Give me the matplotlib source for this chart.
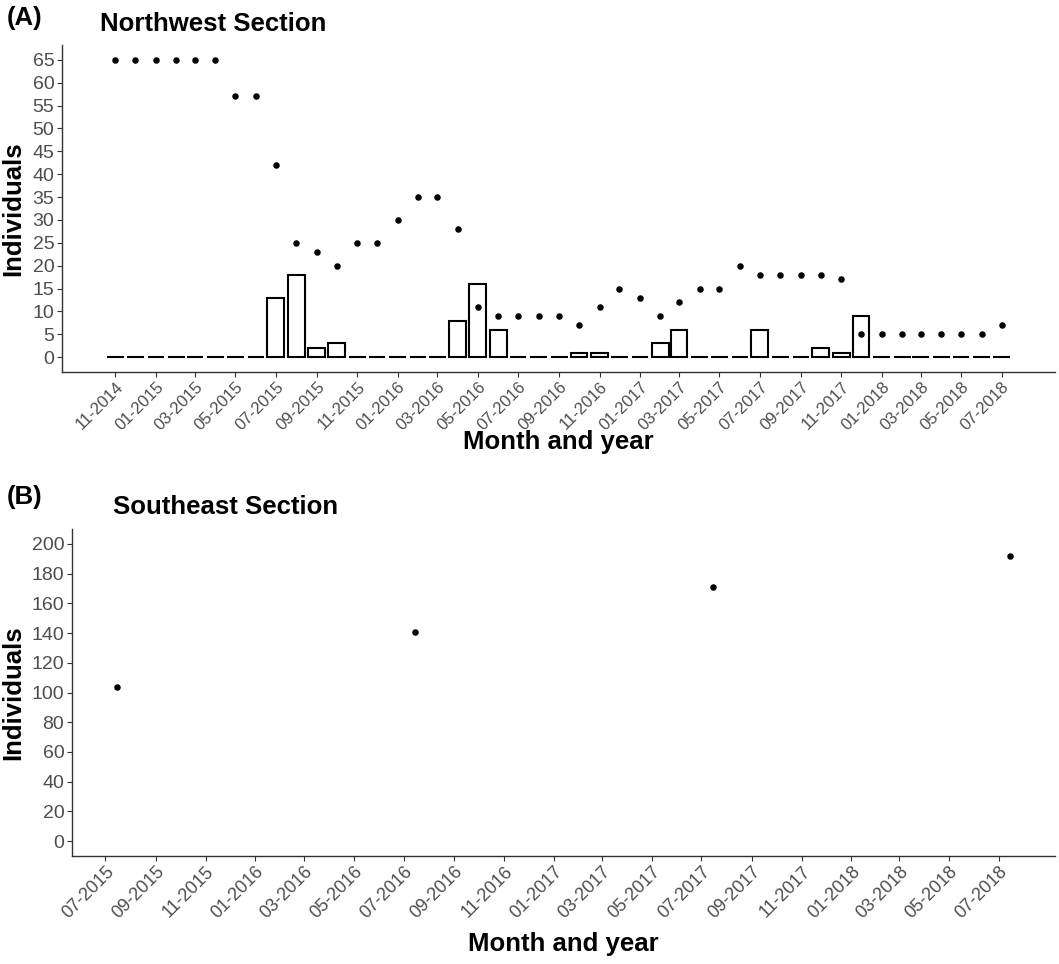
import numpy as np
import pandas as pd
import matplotlib
matplotlib.use("Agg")
import matplotlib.pyplot as plt
import matplotlib.dates as mdates

plt.rcParams['font.family'] = ['Liberation Sans', 'DejaVu Sans']

# --- data ---
# Northwest section, monthly counts Nov 2014 - Jul 2018
nw_months = pd.date_range("2014-11-01", "2018-07-01", freq="MS")
nw_points = [65, 65,
             65, 65, 65, 65, 57, 57, 42, 25, 23, 20, 25, 25,
             30, 35, 35, 28, 11, 9, 9, 9, 9, 7, 11, 15,
             13, 9, 12, 15, 15, 20, 18, 18, 18, 18, 17, 5,
             5, 5, 5, 5, 5, 5, 7]
nw_bars = [0, 0,
           0, 0, 0, 0, 0, 0, 13, 18, 2, 3, 0, 0,
           0, 0, 0, 8, 16, 6, 0, 0, 0, 1, 1, 0,
           0, 3, 6, 0, 0, 0, 6, 0, 0, 2, 1, 9,
           0, 0, 0, 0, 0, 0, 0]
nw_ticks = pd.date_range("2014-11-01", "2018-07-01", freq="2MS")

# Southeast section, yearly counts
se_dates = pd.to_datetime(["2015-07-15", "2016-07-15", "2017-07-15", "2018-07-15"])
se_points = [104, 141, 171, 192]
se_ticks = pd.date_range("2015-07-01", "2018-07-01", freq="2MS")

TICK_GREY = '#4d4d4d'
AXIS_COL = '#333333'
BAR_WIDTH = 25.2  # days


def style(ax, ticks, xsize):
    for s in ['top', 'right']:
        ax.spines[s].set_visible(False)
    for s in ['left', 'bottom']:
        ax.spines[s].set_color(AXIS_COL)
        ax.spines[s].set_linewidth(1.0)
    ax.tick_params(length=3.5, width=0.8, color=AXIS_COL, labelcolor=TICK_GREY,
                   labelsize=14, pad=2)
    ax.set_xticks(mdates.date2num(ticks))
    ax.xaxis.set_major_formatter(mdates.DateFormatter('%m-%Y'))
    ax.tick_params(axis='x', labelsize=xsize, pad=1.5)
    for lbl in ax.get_xticklabels():
        lbl.set_rotation(45)
        lbl.set_ha('right')
        lbl.set_va('top')
        lbl.set_rotation_mode('anchor')
    ax.set_xlabel("Month and year", fontsize=18.5, fontweight='bold')
    ax.set_ylabel("Individuals", fontsize=18.5, fontweight='bold')
    ax.xaxis.label.set_va('center')
    ax.yaxis.label.set_va('center')


def expand(lo, hi, f=0.05):
    d = hi - lo
    return lo - f * d, hi + f * d


fig = plt.figure(figsize=(10.59, 9.64), dpi=100)
W, H = 1059, 964

# --- panel A ---
ax1 = fig.add_axes([62 / W, 1 - 372 / H, 993 / W, 327 / H])
xnum = mdates.date2num(nw_months)
ax1.bar(xnum, nw_bars, width=BAR_WIDTH, facecolor='white', edgecolor='black',
        linewidth=1.5, zorder=2)
ax1.scatter(xnum, nw_points, s=22, color='black', zorder=3, linewidths=0)
ax1.set_xlim(*expand(xnum.min() - BAR_WIDTH / 2, xnum.max() + BAR_WIDTH / 2))
ax1.set_ylim(*expand(0, 65))
ax1.set_yticks(np.arange(0, 66, 5))
style(ax1, nw_ticks, 12)
ax1.xaxis.set_label_coords(0.5, -(442 - 372) / 327)
ax1.yaxis.set_label_coords(-(62 - 13) / 993, 0.5)

# --- panel B ---
ax2 = fig.add_axes([72 / W, 1 - 856 / H, 983 / W, 327 / H])
snum = mdates.date2num(se_dates)
ax2.scatter(snum, se_points, s=22, color='black', zorder=3, linewidths=0)
ax2.set_xlim(*expand(snum.min(), snum.max()))
ax2.set_ylim(*expand(0, 200))
ax2.set_yticks(np.arange(0, 201, 20))
style(ax2, se_ticks, 13)
ax2.xaxis.set_label_coords(0.5, -(944 - 856) / 327)
ax2.yaxis.set_label_coords(-(72 - 13) / 983, 0.5)

# --- titles and panel letters ---
fig.text(7 / W, 1 - 18 / H, "(A)", fontsize=18.5, fontweight='bold', va='center')
fig.text(100 / W, 1 - 24 / H, "Northwest Section", fontsize=18.5, fontweight='bold', va='center')
fig.text(7 / W, 1 - 497 / H, "(B)", fontsize=18.5, fontweight='bold', va='center')
fig.text(113 / W, 1 - 507 / H, "Southeast Section", fontsize=18.5, fontweight='bold', va='center')

fig.savefig("out.png", dpi=100, facecolor='white')
